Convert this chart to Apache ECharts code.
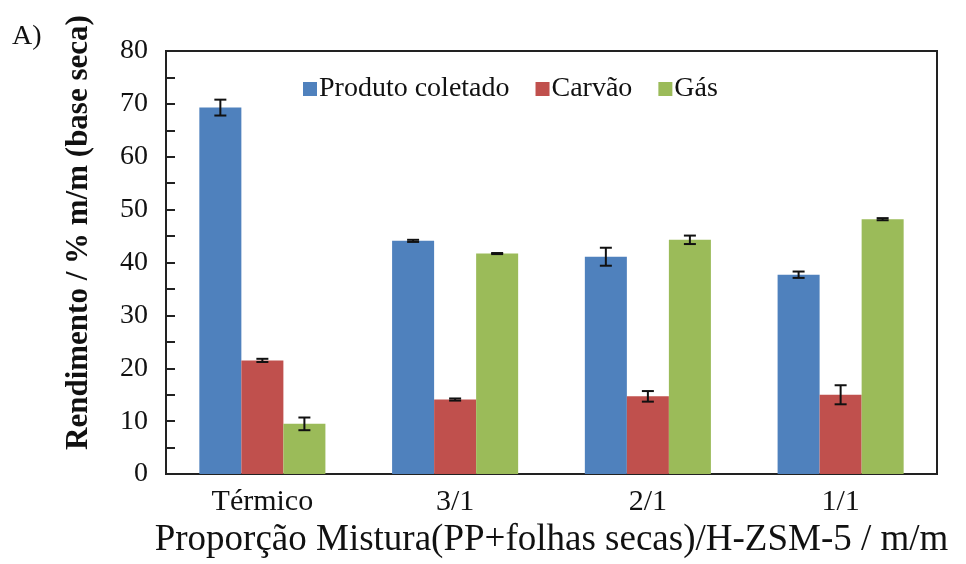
<!DOCTYPE html>
<html>
<head>
<meta charset="utf-8">
<script src="https://cdn.jsdelivr.net/npm/echarts@6/dist/echarts.min.js"></script>
<style>
  html, body { margin: 0; padding: 0; background: #fff; }
  #chart { width: 966px; height: 564px; }
</style>
</head>
<body>
<div id="chart"></div>
<script>
// Yields (% m/m, dry basis) for thermal and catalytic runs
var categories = ['Térmico', '3/1', '2/1', '1/1'];
var seriesNames = ['Produto coletado', 'Carvão', 'Gás'];
var produto = [69.3, 44.1, 41.1, 37.7];
var carvao = [21.5, 14.1, 14.7, 15.0];
var gas = [9.5, 41.7, 44.3, 48.2];
var produtoErr = [1.5, 0.2, 1.7, 0.6];
var carvaoErr = [0.3, 0.2, 1.0, 1.8];
var gasErr = [1.2, 0.1, 0.8, 0.2];
var yTicks = [0, 10, 20, 30, 40, 50, 60, 70, 80];

var colors = ['#4F81BD', '#C0504D', '#9BBB59'];
var FONT = '"Liberation Serif", "Times New Roman", serif';
var CAT_GAP = 0.346;

var values = [produto, carvao, gas];
var errors = [produtoErr, carvaoErr, gasErr];

// Error bar data: [categoryIndex, value, error, seriesIndex]
var errData = [];
values.forEach(function (vals, s) {
  vals.forEach(function (v, i) {
    errData.push([i, v, errors[s][i], s]);
  });
});

function renderError(params, api) {
  var ci = api.value(0), v = api.value(1), e = api.value(2), s = api.value(3);
  var band = api.size([1, 0])[0];
  var barW = band * (1 - CAT_GAP) / 3;
  var c = api.coord([ci, v]);
  var x = c[0] + (s - 1) * barW;
  var top = api.coord([ci, v + e])[1];
  var bot = api.coord([ci, v - e])[1];
  var half = 6;
  var style = { stroke: '#111', lineWidth: 2 };
  return {
    type: 'group',
    children: [
      { type: 'line', shape: { x1: x, y1: top, x2: x, y2: bot }, style: style },
      { type: 'line', shape: { x1: x - half, y1: top, x2: x + half, y2: top }, style: style },
      { type: 'line', shape: { x1: x - half, y1: bot, x2: x + half, y2: bot }, style: style }
    ]
  };
}

var chart = echarts.init(document.getElementById('chart'), null, { renderer: 'canvas' });

var barSeries = seriesNames.map(function (name, s) {
  return {
    name: name,
    type: 'bar',
    data: values[s],
    barGap: '0%',
    barCategoryGap: (CAT_GAP * 100) + '%',
    itemStyle: { color: colors[s] },
    emphasis: { disabled: true }
  };
});

chart.setOption({
  animation: false,
  backgroundColor: '#fff',
  textStyle: { fontFamily: FONT, color: '#111' },
  grid: {
    left: 166, right: 29, top: 51, bottom: 87,
    show: true, borderColor: '#222', borderWidth: 2, backgroundColor: 'transparent'
  },
  legend: {
    top: 70, left: 298,
    itemWidth: 14, itemHeight: 14, itemGap: 26,
    icon: 'rect',
    textStyle: { fontFamily: FONT, fontSize: 28, color: '#111', padding: [0, 0, 0, -3] },
    data: seriesNames
  },
  graphic: [{
    type: 'text', left: 12, top: 23,
    style: { text: 'A)', font: '28px ' + FONT, fill: '#111' }
  }],
  xAxis: {
    type: 'category',
    data: categories,
    axisLine: { show: true, lineStyle: { color: '#222', width: 2 } },
    axisTick: { show: false },
    axisLabel: { fontFamily: FONT, fontSize: 30, color: '#111', margin: 13 },
    name: 'Proporção Mistura(PP+folhas secas)/H-ZSM-5 / m/m',
    nameLocation: 'middle',
    nameGap: 47,
    nameTextStyle: { fontFamily: FONT, fontSize: 37, color: '#111' }
  },
  yAxis: {
    type: 'value',
    min: yTicks[0], max: yTicks[yTicks.length - 1], interval: 5,
    axisLine: { show: true, lineStyle: { color: '#222', width: 2 } },
    axisTick: { show: true, inside: true, length: 9, lineStyle: { color: '#222', width: 2 } },
    splitLine: { show: false },
    axisLabel: {
      fontFamily: FONT, fontSize: 28, color: '#111', margin: 18,
      formatter: function (v) { return yTicks.indexOf(v) >= 0 ? String(v) : ''; }
    },
    name: 'Rendimento / % m/m (base seca)',
    nameLocation: 'middle',
    nameGap: 72,
    nameTextStyle: { fontFamily: FONT, fontSize: 31, fontWeight: 'bold', color: '#111', padding: [0, 0, 0, 60] }
  },
  series: barSeries.concat([{
    type: 'custom',
    name: 'erro',
    renderItem: renderError,
    data: errData,
    z: 10,
    silent: true
  }])
});
</script>
</body>
</html>
